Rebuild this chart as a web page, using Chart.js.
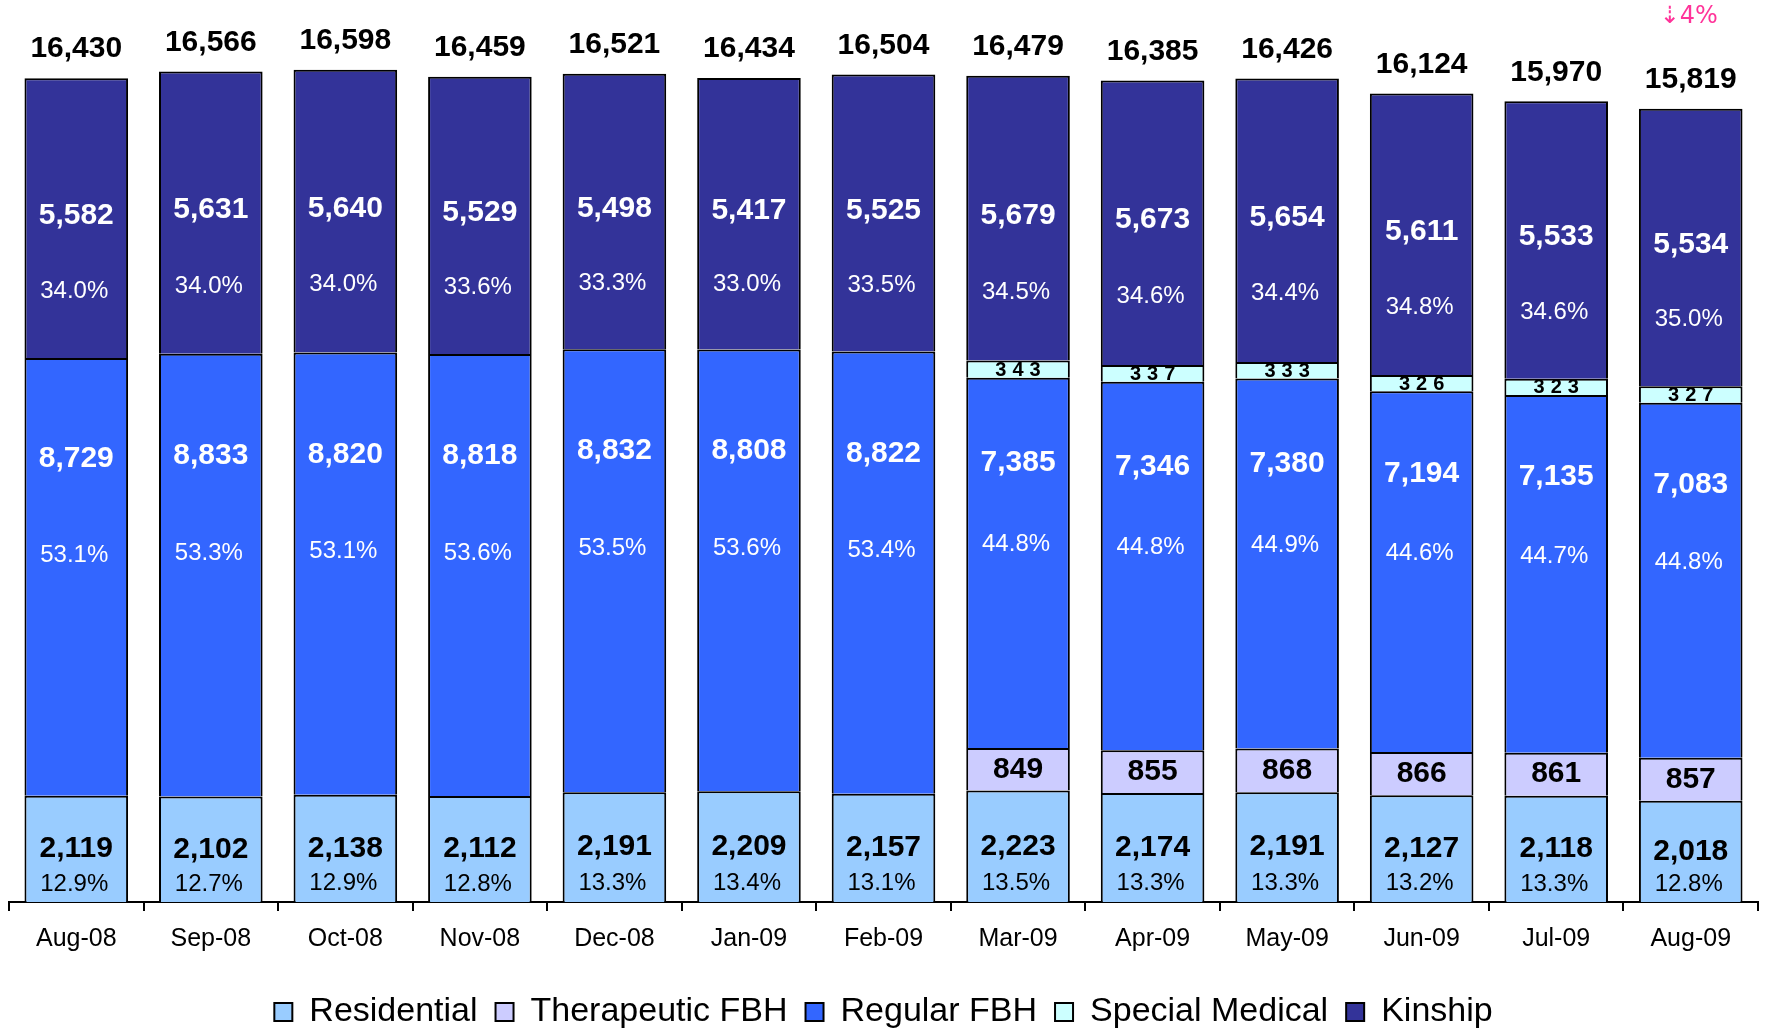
<!DOCTYPE html>
<html>
<head>
<meta charset="utf-8">
<script src="https://cdn.jsdelivr.net/npm/chart.js@4"></script>
<style>
  html, body { margin: 0; padding: 0; background: #fff; }
  #wrap { width: 1765px; height: 1028px; }
</style>
</head>
<body>
<div id="wrap"><canvas id="placements"></canvas></div>
<script>
// values
const months = ['Aug-08', 'Sep-08', 'Oct-08', 'Nov-08', 'Dec-08', 'Jan-09', 'Feb-09',
                'Mar-09', 'Apr-09', 'May-09', 'Jun-09', 'Jul-09', 'Aug-09'];
const residential = [2119, 2102, 2138, 2112, 2191, 2209, 2157, 2223, 2174, 2191, 2127, 2118, 2018];
const therapeutic = [null, null, null, null, null, null, null, 849, 855, 868, 866, 861, 857];
const regular = [8729, 8833, 8820, 8818, 8832, 8808, 8822, 7385, 7346, 7380, 7194, 7135, 7083];
const specialMedical = [null, null, null, null, null, null, null, 343, 337, 333, 326, 323, 327];
const kinship = [5582, 5631, 5640, 5529, 5498, 5417, 5525, 5679, 5673, 5654, 5611, 5533, 5534];
const totals = [16430, 16566, 16598, 16459, 16521, 16434, 16504, 16479, 16385, 16426, 16124, 15970, 15819];
const residentialPct = ['12.9%', '12.7%', '12.9%', '12.8%', '13.3%', '13.4%', '13.1%', '13.5%', '13.3%', '13.3%', '13.2%', '13.3%', '12.8%'];
const regularPct = ['53.1%', '53.3%', '53.1%', '53.6%', '53.5%', '53.6%', '53.4%', '44.8%', '44.8%', '44.9%', '44.6%', '44.7%', '44.8%'];
const kinshipPct = ['34.0%', '34.0%', '34.0%', '33.6%', '33.3%', '33.0%', '33.5%', '34.5%', '34.6%', '34.4%', '34.8%', '34.6%', '35.0%'];
const changeNote = '\u21E34%';

const FONT = '"Liberation Sans", Arial, sans-serif';
const fmt = v => v.toLocaleString('en-US');

// where the value / percent sit inside each segment (fraction of its height)
const labelSpots = [
  { pct: residentialPct, valAt: 0.50, pctAt: 0.83, color: '#000' },
  { valAt: 0.5, color: '#000' },
  { pct: regularPct, valAt: 0.23, pctAt: 0.45, color: '#fff' },
  { valAt: 0.5, color: '#000', small: true },
  { pct: kinshipPct, valAt: 0.49, pctAt: 0.76, color: '#fff' }
];

const barLabels = {
  id: 'barLabels',
  afterDatasetsDraw(chart) {
    const ctx = chart.ctx;
    ctx.save();
    ctx.textAlign = 'center';
    ctx.textBaseline = 'middle';
    chart.data.datasets.forEach((ds, i) => {
      const spot = labelSpots[i];
      chart.getDatasetMeta(i).data.forEach((bar, j) => {
        const v = ds.data[j];
        if (v == null) return;
        const top = Math.min(bar.y, bar.base);
        const h = Math.abs(bar.base - bar.y);
        ctx.fillStyle = spot.color;
        if (spot.small) {
          ctx.font = 'bold 20px ' + FONT;
          ctx.letterSpacing = '6px';
          ctx.fillText(String(v), bar.x + 3, top + h * 0.5 + 1);
          ctx.letterSpacing = '0px';
          return;
        }
        ctx.font = 'bold 30px ' + FONT;
        ctx.fillText(fmt(v), bar.x, top + h * spot.valAt);
        if (spot.pct) {
          ctx.font = '24px ' + FONT;
          ctx.fillText(spot.pct[j], bar.x - 2, top + h * spot.pctAt);
        }
      });
    });
    // totals above each column
    const topMeta = chart.getDatasetMeta(chart.data.datasets.length - 1);
    ctx.fillStyle = '#000';
    ctx.font = 'bold 30px ' + FONT;
    topMeta.data.forEach((bar, j) => {
      ctx.fillText(fmt(totals[j]), bar.x, bar.y - 29);
    });
    const last = topMeta.data[topMeta.data.length - 1];
    ctx.fillStyle = '#FF3399';
    ctx.font = '24px "DejaVu Sans", ' + FONT;
    ctx.fillText(changeNote, last.x - 2, last.y - 92);
    ctx.restore();
  }
};

const mk = (label, data, color) => ({
  label, data, backgroundColor: color, borderColor: '#000', borderWidth: 2,
  barPercentage: 0.77, categoryPercentage: 1
});

new Chart(document.getElementById('placements'), {
  type: 'bar',
  data: {
    labels: months,
    datasets: [
      mk('Residential', residential, '#99CCFF'),
      mk('Therapeutic FBH', therapeutic, '#CCCCFF'),
      mk('Regular FBH', regular, '#3366FF'),
      mk('Special Medical', specialMedical, '#CCFFFF'),
      mk('Kinship', kinship, '#333399')
    ]
  },
  options: {
    responsive: true,
    maintainAspectRatio: false,
    animation: false,
    layout: { padding: { left: 9, right: 7, top: 0, bottom: -11 } },
    scales: {
      x: {
        stacked: true,
        afterFit: s => { s.height += 10; },
        grid: { display: true, drawOnChartArea: false, color: '#000', lineWidth: 2, tickLength: 9, offset: true },
        border: { display: true, color: '#000', width: 2 },
        ticks: { color: '#000', font: { family: FONT, size: 25 }, padding: 13, maxRotation: 0 }
      },
      y: {
        stacked: true,
        display: false,
        min: 0,
        max: 17990
      }
    },
    plugins: {
      legend: {
        position: 'bottom',
        labels: {
          color: '#000',
          font: { family: FONT, size: 34 },
          boxWidth: 18,
          boxHeight: 18,
          padding: 18
        }
      },
      tooltip: { enabled: false }
    }
  },
  plugins: [barLabels]
});
</script>
</body>
</html>
